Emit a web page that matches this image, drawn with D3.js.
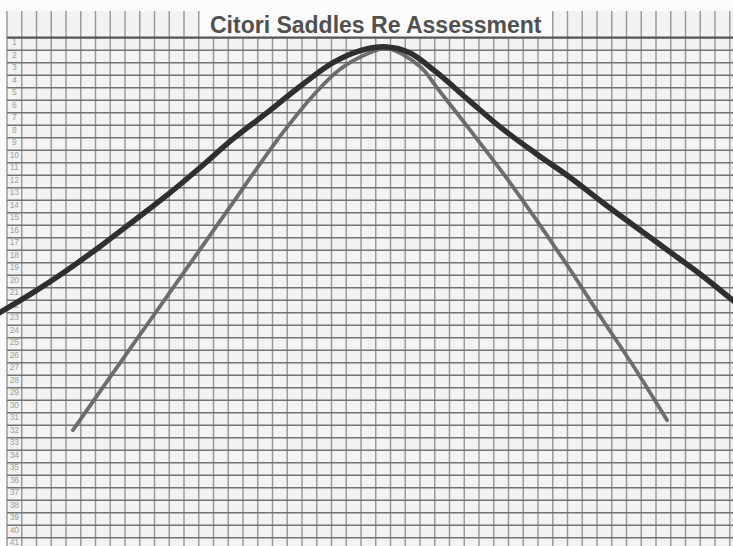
<!DOCTYPE html>
<html>
<head>
<meta charset="utf-8">
<script src="https://cdn.jsdelivr.net/npm/d3@7"></script>
<style>
  html, body { margin: 0; padding: 0; background: #fcfcfc; }
  svg { display: block; }
</style>
</head>
<body>
<script>
// ---- Data (grid column index, grid row value) ----
const title = "Citori Saddles Re Assessment";
const rowLabels = [1,2,3,4,5,6,7,8,9,10,11,12,13,14,15,16,17,18,19,20,21,22,23,24,25,26,27,28,29,30,31,32,33,34,35,36,37,38,39,40,41];

// Outer (dark) curve
const darkCols = [-0.5, 1.76, 4.07, 6.31, 8.54, 10.85, 13.08, 15.32, 17.63, 19.86, 22.1, 23.9, 25.76, 27.3, 29.15, 31.4, 33.6, 35.9, 38.2, 40.4, 42.7, 44.9, 47.2, 49.5];
const darkRows = [22.0, 20.4, 18.6, 16.7, 14.7, 12.6, 10.4, 8.1, 6.0, 3.9, 2.0, 1.05, 0.74, 1.2, 2.8, 5.1, 7.3, 9.3, 11.2, 13.2, 15.2, 17.1, 19.1, 21.3];

// Inner (gray) curve
const grayCols = [4.47, 6.31, 8.54, 10.85, 13.08, 15.32, 16.47, 18.7, 21.0, 22.6, 24.4, 25.76, 28.0, 29.15, 31.4, 33.6, 35.9, 38.2, 40.4, 42.7, 44.75];
const grayRows = [31.4, 28.3, 24.55, 20.7, 16.95, 13.2, 11.25, 7.6, 4.3, 2.5, 1.3, 0.85, 2.3, 4.0, 7.4, 10.8, 14.6, 18.6, 22.6, 26.7, 30.6];

// ---- Layout ----
const W = 733, H = 546;
const nCols = 49, nRows = 41;
const gridLeft = 7, colW = 14.75;
const gridTopLine = 37.7, rowH = 12.5;
const paperTop = 11;
const titleColStart = 13, titleColEnd = 37;

const x = d3.scaleLinear().domain([0, nCols]).range([gridLeft, gridLeft + nCols * colW]);
const y = d3.scaleLinear().domain([0, nRows]).range([gridTopLine, gridTopLine + nRows * rowH]);

const svg = d3.select("body").append("svg").attr("width", W).attr("height", H);

// paper background
svg.append("rect").attr("x", gridLeft).attr("y", paperTop)
  .attr("width", W - gridLeft).attr("height", H - paperTop).attr("fill", "#f3f3f3");

// title box background
svg.append("rect").attr("x", x(titleColStart)).attr("y", paperTop)
  .attr("width", x(titleColEnd) - x(titleColStart)).attr("height", gridTopLine - paperTop)
  .attr("fill", "#fbfbfb");

// vertical grid lines
const vCols = d3.range(0, nCols + 1);
svg.append("g").selectAll("line").data(vCols).join("line")
  .attr("x1", d => x(d)).attr("x2", d => x(d))
  .attr("y1", d => (d > titleColStart && d < titleColEnd) ? gridTopLine : paperTop)
  .attr("y2", H)
  .attr("stroke", "#969696").attr("stroke-width", 1.4);

// horizontal grid lines
const hRows = d3.range(0, nRows + 1);
svg.append("g").selectAll("line").data(hRows).join("line")
  .attr("x1", gridLeft).attr("x2", W)
  .attr("y1", d => y(d)).attr("y2", d => y(d))
  .attr("stroke", d => d === 0 ? "#555" : "#727272")
  .attr("stroke-width", d => d === 0 ? 2.2 : 1.4);

// row labels
svg.append("g").selectAll("text").data(rowLabels).join("text")
  .attr("x", (x(0) + x(1)) / 2)
  .attr("y", (d) => y(d - 0.5) - 1.5)
  .attr("dy", "0.35em")
  .attr("text-anchor", "middle")
  .attr("font-family", "Liberation Sans, Arial, sans-serif")
  .attr("font-size", 8.5)
  .attr("fill", "#a0a0a0")
  .text(d => d);

// title
svg.append("text")
  .attr("x", (x(titleColStart) + x(titleColEnd)) / 2)
  .attr("y", 32.5)
  .attr("text-anchor", "middle")
  .attr("font-family", "Liberation Sans, Arial, sans-serif")
  .attr("font-weight", "bold")
  .attr("font-size", 23)
  .attr("fill", "#505050")
  .text(title);

// curves
const line = d3.line().x(d => x(d[0])).y(d => y(d[1])).curve(d3.curveCatmullRom.alpha(0.5));
const grayData = grayCols.map((c, i) => [c, grayRows[i]]);
const darkData = darkCols.map((c, i) => [c, darkRows[i]]);

svg.append("path").datum(grayData).attr("d", line)
  .attr("fill", "none").attr("stroke", "#666").attr("stroke-width", 3.8)
  .attr("stroke-linecap", "round").attr("stroke-linejoin", "round").attr("opacity", 0.95);

svg.append("path").datum(darkData).attr("d", line)
  .attr("fill", "none").attr("stroke", "#2f2f2f").attr("stroke-width", 5.5)
  .attr("stroke-linecap", "round").attr("stroke-linejoin", "round");
</script>
</body>
</html>
